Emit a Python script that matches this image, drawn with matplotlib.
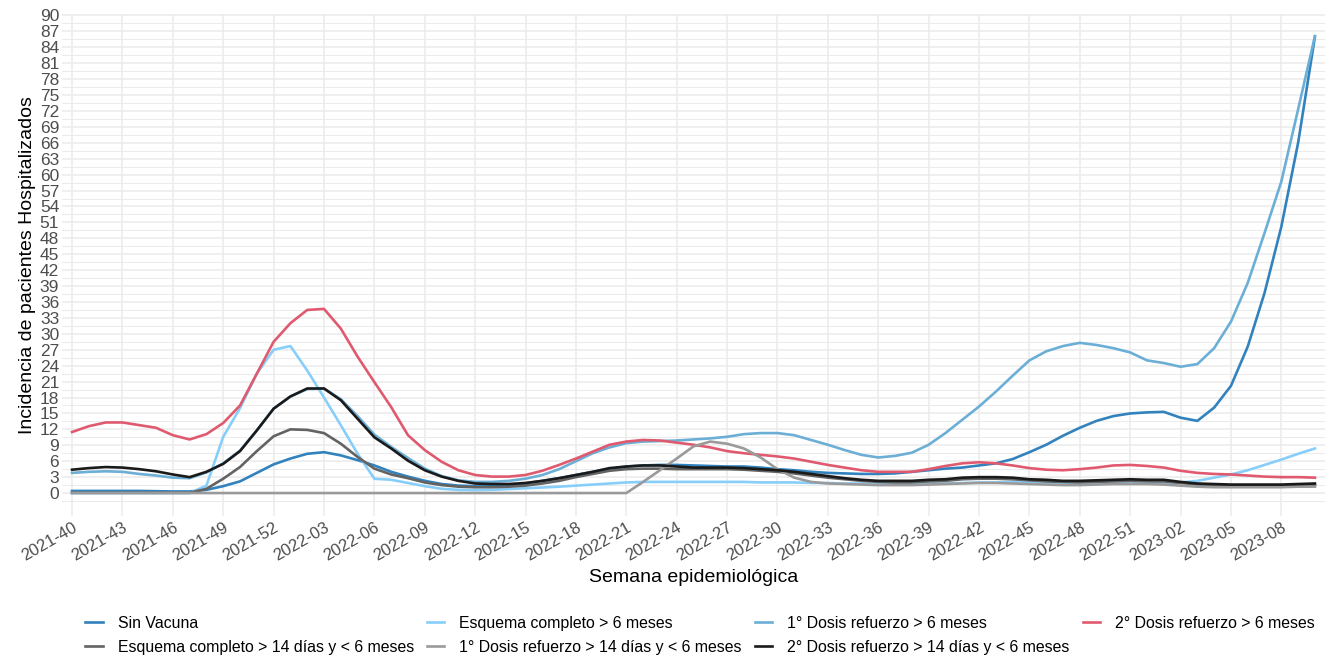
import numpy as np
import matplotlib
matplotlib.use('Agg')
import matplotlib.pyplot as plt

plt.rcParams['font.family'] = ['Liberation Sans', 'DejaVu Sans']

# Epidemiological weeks 2021-40 .. 2023-10
weeks = ([f'2021-{w:02d}' for w in range(40, 53)] +
         [f'2022-{w:02d}' for w in range(1, 53)] +
         [f'2023-{w:02d}' for w in range(1, 11)])

sin_vacuna = [0.4, 0.4, 0.4, 0.4, 0.4, 0.35, 0.3, 0.3,
              0.6, 1.3, 2.2, 3.8, 5.4, 6.5, 7.4, 7.7, 7.1, 6.2, 5.2, 4.0,
              3.1, 2.3, 1.7, 1.4, 1.3, 1.4, 1.5, 1.8, 2.3, 2.8, 3.4, 4.0, 4.5, 5.0, 5.2, 5.3, 5.3, 5.2, 5.1, 5.0,
              5.0, 4.8, 4.5, 4.3, 4.0, 3.8, 3.7, 3.6, 3.6, 3.7, 4.0, 4.3, 4.6, 4.8, 5.2, 5.6, 6.4, 7.7, 9.1, 10.8,
              12.3, 13.6, 14.5, 15.0, 15.2, 15.3, 14.2, 13.6, 16.1, 20.2, 27.6, 37.7, 50.2, 66.0, 86.0]

esq_6m = [0, 0, 0, 0, 0, 0, 0, 0,
          1.4, 10.6, 16.0, 22.5, 27.0, 27.7, 23.1, 18.0, 12.8, 7.4,
          2.7, 2.5, 1.9, 1.3, 0.8, 0.6, 0.55, 0.6, 0.75, 0.9, 1.05, 1.2, 1.4, 1.6, 1.8, 2.0, 2.1, 2.1, 2.1, 2.1, 2.1, 2.1,
          2.1, 2.0, 2.0, 2.0, 1.9, 1.9, 1.8, 1.8, 1.7, 1.7, 1.7, 1.8, 1.8, 1.9, 2.0, 2.0, 2.1, 2.1, 2.0, 1.9,
          1.9, 2.0, 2.0, 2.0, 1.9, 1.9, 2.0, 2.3, 2.9, 3.5, 4.3, 5.3, 6.3, 7.4, 8.4]

dosis1_6m = [3.8, 4.0, 4.1, 4.0, 3.6, 3.3, 2.9, 2.8,
             3.9, 5.6, 8.0, 11.8, 15.9, 18.2, 19.6, 19.7, 17.7, 14.5, 11.0, 8.7, 6.6,
             4.6, 3.2, 2.4, 2.1, 2.1, 2.3, 2.7, 3.4, 4.5, 6.0, 7.5, 8.6, 9.4, 9.7, 9.8, 9.9, 10.1, 10.3, 10.6,
             11.1, 11.3, 11.3, 10.9, 10.0, 9.1, 8.1, 7.2, 6.7, 7.0, 7.6, 9.1, 11.3, 13.8, 16.3, 19.1, 22.1, 25.0, 26.7, 27.7,
             28.3, 27.9, 27.3, 26.5, 25.0, 24.5, 23.8, 24.3, 27.3, 32.3, 39.6, 49.0, 58.7, 72.3, 86.1]

dosis2_6m = [11.5, 12.6, 13.3, 13.3, 12.8, 12.3, 10.9, 10.1, 11.1, 13.2, 16.5, 22.5, 28.5, 32.0, 34.5, 34.7, 31.0, 25.7, 20.9, 16.2,
             10.9, 8.1, 5.9, 4.3, 3.4, 3.1, 3.1, 3.4, 4.2, 5.3, 6.5, 7.8, 9.1, 9.7, 10.0, 9.9, 9.5, 9.1, 8.6, 7.9,
             7.5, 7.2, 6.9, 6.5, 5.9, 5.3, 4.8, 4.3, 4.0, 4.0, 4.0, 4.5, 5.1, 5.6, 5.8, 5.6, 5.2, 4.7, 4.4, 4.3,
             4.5, 4.8, 5.2, 5.3, 5.1, 4.8, 4.2, 3.8, 3.6, 3.5, 3.3, 3.1, 3.0, 3.0, 2.9]

esq_14d = [0.05, 0.05, 0.05, 0.05, 0.05, 0.05, 0.05, 0.05,
           0.8, 2.7, 4.9, 7.9, 10.7, 12.0, 11.9, 11.3, 9.3, 6.8, 4.6, 3.5,
           2.8, 2.0, 1.5, 1.2, 1.1, 1.1, 1.2, 1.4, 1.8, 2.3, 3.0, 3.6, 4.2, 4.5, 4.6, 4.6, 4.5, 4.5, 4.5, 4.5,
           4.4, 4.2, 4.0, 3.7, 3.3, 2.9, 2.6, 2.3, 2.1, 2.0, 2.0, 2.2, 2.3, 2.6, 2.7, 2.7, 2.6, 2.4, 2.2, 2.1,
           2.0, 2.1, 2.2, 2.3, 2.2, 2.2, 1.9, 1.6, 1.5, 1.4, 1.4, 1.4, 1.4, 1.5, 1.5]

dosis1_14d = [0] * 34 + [2.1, 4.3, 6.5, 8.8, 9.7, 9.3, 8.4, 6.7, 4.5, 2.9, 2.1,
                         1.8, 1.7, 1.6, 1.5, 1.5, 1.5, 1.6, 1.7, 1.8, 1.9, 1.9, 1.8, 1.7, 1.6, 1.5,
                         1.5, 1.6, 1.7, 1.7, 1.7, 1.6, 1.4, 1.2, 1.1, 1.1, 1.1, 1.1, 1.1, 1.2, 1.2]

dosis2_14d = [4.4, 4.7, 4.9, 4.8, 4.5, 4.1, 3.5, 3.0, 4.0, 5.5, 7.9, 11.8, 15.9, 18.2, 19.7, 19.7, 17.5, 14.0, 10.5, 8.4,
              6.1, 4.3, 3.1, 2.3, 1.8, 1.7, 1.7, 1.9, 2.3, 2.8, 3.4, 4.0, 4.7, 5.0, 5.2, 5.2, 5.0, 4.8, 4.8, 4.8,
              4.7, 4.5, 4.3, 4.0, 3.6, 3.2, 2.8, 2.5, 2.3, 2.3, 2.3, 2.5, 2.6, 2.9, 3.0, 3.0, 2.9, 2.6, 2.5, 2.3,
              2.3, 2.4, 2.5, 2.6, 2.5, 2.5, 2.1, 1.8, 1.7, 1.6, 1.6, 1.6, 1.6, 1.7, 1.8]

series = [
    ('Sin Vacuna', sin_vacuna, '#3182BD'),
    ('Esquema completo > 6 meses', esq_6m, '#87CEFA'),
    ('1° Dosis refuerzo > 6 meses', dosis1_6m, '#6BAED6'),
    ('2° Dosis refuerzo > 6 meses', dosis2_6m, '#E05A6F'),
    ('Esquema completo > 14 días y < 6 meses', esq_14d, '#636363'),
    ('1° Dosis refuerzo > 14 días y < 6 meses', dosis1_14d, '#9A9A9A'),
    ('2° Dosis refuerzo > 14 días y < 6 meses', dosis2_14d, '#1A1A1A'),
]

fig = plt.figure(figsize=(13.33, 6.58), dpi=100)
ax = fig.add_axes([0.0465, 0.216, 0.9475, 0.763])

handles = {}
for name, vals, col in series:
    ln, = ax.plot(weeks, vals, color=col, lw=1.9, label=name, solid_joinstyle='round')
    handles[name] = ln

ax.set_xlim(-0.6, len(weeks) - 0.4)
ax.set_ylim(-4.3, 90.3)

# grid
ax.set_yticks(np.arange(0, 91, 3))
ax.set_yticks(np.arange(-1.5, 90.3, 3), minor=True)
ax.set_xticks(range(0, len(weeks), 3))
ax.set_xticklabels(weeks[::3], rotation=30, ha='right', rotation_mode='anchor')
ax.grid(True, which='major', color='#EBEBEB', lw=1.1)
ax.grid(True, which='minor', axis='y', color='#EBEBEB', lw=0.7)
ax.set_axisbelow(True)
for s in ax.spines.values():
    s.set_visible(False)
ax.tick_params(axis='both', which='both', length=0, colors='#4D4D4D')
ax.tick_params(axis='y', labelsize=12.5, pad=2)
ax.tick_params(axis='x', labelsize=12, pad=3)

ax.set_xlabel('Semana epidemiológica', fontsize=14, labelpad=4)
ax.set_ylabel('Incidencia de pacientes Hospitalizados', fontsize=14, labelpad=3)

order = ['Sin Vacuna', 'Esquema completo > 14 días y < 6 meses',
         'Esquema completo > 6 meses', '1° Dosis refuerzo > 14 días y < 6 meses',
         '1° Dosis refuerzo > 6 meses', '2° Dosis refuerzo > 14 días y < 6 meses',
         '2° Dosis refuerzo > 6 meses']
fig.legend([handles[k] for k in order], order, ncol=4, loc='upper center',
           bbox_to_anchor=(700 / 1333, 1 - 608 / 658), frameon=False,
           fontsize=11.4, handlelength=1.1, handletextpad=0.95, columnspacing=0.82,
           labelspacing=0.55, borderpad=0)

fig.savefig('out.png', dpi=100)
